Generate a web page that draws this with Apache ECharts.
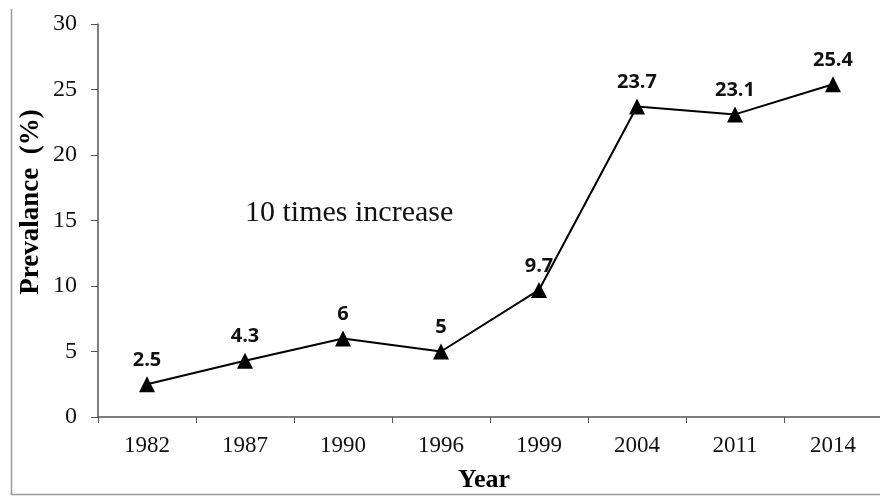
<!DOCTYPE html>
<html><head><meta charset="utf-8">
<script src="https://cdn.jsdelivr.net/npm/echarts@6/dist/echarts.min.js"></script>
<style>html,body{margin:0;padding:0;background:#fff}#c{width:880px;height:496px}</style>
</head><body><div id="c"></div>
<script>
const years = ['1982','1987','1990','1996','1999','2004','2011','2014'];
const prevalence = [2.5, 4.3, 6, 5, 9.7, 23.7, 23.1, 25.4];
const yTicks = [0, 5, 10, 15, 20, 25, 30];

const chart = echarts.init(document.getElementById('c'), null, {renderer: 'canvas'});
chart.setOption({
  animation: false,
  backgroundColor: '#fff',
  grid: {left: 98, top: 24, width: 784, height: 393, containLabel: false, outerBoundsMode: 'none'},
  xAxis: {
    type: 'category', data: years, boundaryGap: true,
    axisLine: {lineStyle: {color: '#555', width: 1.5}},
    axisTick: {show: true, length: 6, lineStyle: {color: '#555'}},
    axisLabel: {fontFamily: 'Liberation Serif', fontSize: 23, color: '#111', margin: 17}
  },
  yAxis: {
    type: 'value', min: yTicks[0], max: yTicks[yTicks.length-1], interval: 5,
    axisLine: {show: true, lineStyle: {color: '#555', width: 1.5}},
    axisTick: {show: true, length: 7, inside: false, lineStyle: {color: '#555'}},
    splitLine: {show: false},
    axisLabel: {fontFamily: 'Liberation Serif', fontSize: 24, color: '#111', margin: 21}
  },
  series: [{
    type: 'line', data: prevalence,
    symbol: 'triangle', symbolSize: 16,
    lineStyle: {color: '#000', width: 2},
    itemStyle: {color: '#000'},
    label: {show: true, position: 'top', distance: 6, fontFamily: 'Open Sans', fontWeight: 'bold', fontSize: 20, color: '#111'}
  }],
  graphic: [
    {type: 'text', x: 245, y: 213, style: {text: '10 times increase', font: '30px "Liberation Serif"', fill: '#111', verticalAlign: 'middle'}},
    {type: 'text', x: 31, y: 202, rotation: Math.PI / 2, style: {text: 'Prevalance  (%)', font: 'bold 27px "Liberation Serif"', fill: '#000', align: 'center', verticalAlign: 'middle'}},
    {type: 'text', x: 484, y: 480, style: {text: 'Year', font: 'bold 26px "Liberation Serif"', fill: '#000', align: 'center', verticalAlign: 'middle'}},
    {type: 'line', shape: {x1: 11.5, y1: 9, x2: 11.5, y2: 494.5}, style: {stroke: '#999', lineWidth: 1.5}},
    {type: 'line', shape: {x1: 11, y1: 494.5, x2: 880, y2: 494.5}, style: {stroke: '#999', lineWidth: 1.5}}
  ]
});
</script></body></html>
